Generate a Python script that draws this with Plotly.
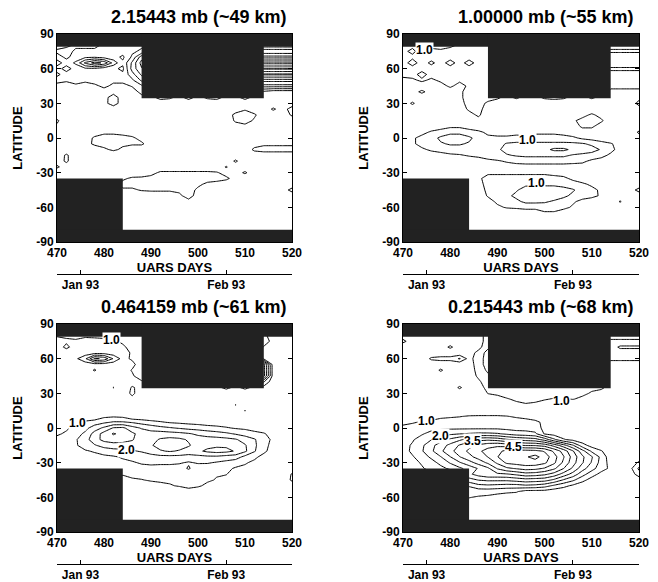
import plotly.graph_objects as go

# ---------------- data ----------------
DAYS = [470, 472, 474, 476, 478, 480, 482, 484, 486, 488, 490, 492, 494,
        496, 498, 500, 502, 504, 506, 508, 510, 512, 514, 516, 518, 520]
LATS = [80, 75, 70, 65, 60, 55, 50, 45, 40, 35, 30, 25, 20, 15, 10, 5, 0,
        -5, -10, -15, -20, -25, -30, -35, -40, -45, -50, -55, -60, -65, -70, -75, -80]

# field values in tenths, rows from 80N down to 80S, columns = DAYS
Z_2MB = [
    [12, 11, 9, 8, 9, 11, 12, 11, 12, 14, 14, 14, 14, 14, 14, 14, 14, 14, 14, 14, 14, 14, 12, 12, 12, 12],
    [9, 8, 11, 12, 11, 12, 13, 12, 14, 16, 16, 16, 16, 16, 16, 16, 16, 16, 16, 16, 16, 16, 24, 24, 24, 24],
    [12, 9, 12, 14, 14.5, 13, 12, 9, 16, 28, 19, 19, 19, 19, 19, 19, 19, 19, 19, 19, 19, 19, 13, 13, 13, 13],
    [8, 12, 16, 26, 32, 29, 18, 11, 21, 32, 19, 19, 19, 19, 19, 19, 19, 19, 19, 19, 19, 19, 27, 27, 27, 27],
    [12, 8, 12, 14, 14, 12, 11, 9, 22, 29.5, 19, 19, 19, 19, 19, 19, 19, 19, 19, 19, 19, 19, 14, 14, 14, 14],
    [9, 12, 11, 12, 11, 13, 12, 11, 18, 26, 19, 19, 19, 19, 19, 19, 19, 19, 19, 19, 19, 19, 26, 26, 26, 26],
    [12, 11, 12, 11, 12, 12, 11, 12, 14, 21, 18, 18, 18, 18, 18, 18, 18, 18, 18, 18, 18, 18, 13, 13, 13, 13],
    [8, 7, 9, 8, 9, 11, 9, 8, 10.5, 14, 14, 14, 14, 14, 14, 14, 14, 14, 14, 14, 14, 14, 22, 22, 22, 22],
    [5, 5, 5, 6, 7, 8, 7, 6, 7, 12, 12, 12, 12, 12, 12, 12, 12, 12, 12, 12, 12, 12, 9, 7, 7, 7],
    [4, 4, 5, 5, 6, 7, 14, 6, 5, 8, 8, 12, 11, 8, 12, 8, 11, 12, 8, 8, 12, 8, 8, 6, 6, 6],
    [5, 5, 5, 6, 6, 8, 13, 7, 6, 6, 6, 6, 6, 6, 6, 6, 6, 6, 6, 6, 6, 6, 6, 6, 6, 6],
    [6, 6, 6, 6, 6, 6, 6, 6, 6, 6, 6, 6, 6, 6, 6, 6, 6, 6, 6, 6, 9, 6, 6, 11, 7, 13],
    [6, 6, 6, 6, 6, 6, 6, 6, 6, 6, 6, 6, 6, 6, 6, 6, 6, 6, 6, 12, 14.5, 11, 6, 6, 6, 11],
    [11, 6, 6, 6, 6, 6, 6, 6, 6, 6, 6, 6, 6, 6, 6, 6, 6, 6, 6, 11, 13, 9, 6, 6, 6, 6],
    [9, 6, 6, 6, 6, 6, 6, 6, 6, 6, 6, 6, 6, 6, 6, 6, 6, 6, 6, 7, 8, 7, 6, 6, 6, 6],
    [6, 6, 6, 6, 7, 9, 9, 8, 7, 6, 6, 6, 6, 6, 6, 6, 6, 6, 6, 6, 6, 6, 6, 6, 6, 6],
    [6, 6, 6, 7, 11, 12, 12, 12, 11, 8, 6, 6, 6, 6, 6, 6, 6, 6, 6, 6, 6, 6, 6, 6, 6, 6],
    [6, 6, 6, 8, 11, 12, 13, 11, 11, 11, 7, 6, 6, 6, 6, 6, 6, 6, 6, 6, 6, 8, 9, 9, 9, 9],
    [6, 6, 6, 6, 7, 9, 11, 9, 6, 6, 6, 6, 6, 6, 6, 6, 6, 6, 6, 6, 7, 11, 12, 12, 12, 12],
    [6, 11, 6, 6, 6, 6, 6, 6, 6, 6, 6, 6, 6, 6, 6, 6, 6, 6, 6, 6, 6, 7, 7, 7, 7, 7],
    [7, 11, 6, 6, 6, 6, 6, 6, 6, 6, 6, 6, 6, 6, 6, 6, 6, 6, 6, 11, 6, 6, 6, 6, 6, 6],
    [11, 7, 6, 6, 6, 6, 6, 6, 6, 6, 6, 6, 6, 6, 6, 6, 6, 6, 10.5, 6, 6, 6, 6, 6, 6, 6],
    [6, 6, 6, 6, 6, 6, 6, 6, 6, 7, 8, 11, 11, 11, 11, 11, 11, 10.5, 8, 7, 11, 6, 6, 6, 6, 6],
    [6, 6, 6, 6, 6, 6, 6, 9, 11, 11, 12, 12, 13, 13, 13, 13, 12, 12, 11, 8, 6, 6, 6, 6, 6, 6],
    [6, 6, 6, 6, 6, 6, 6, 12, 12, 12, 12, 12, 12, 12, 11, 11, 9, 8, 7, 6, 6, 6, 6, 6, 6, 6],
    [6, 6, 6, 6, 6, 6, 6, 9, 9, 10.5, 11, 11, 11, 11, 12, 9, 7, 6, 6, 6, 6, 6, 6, 6, 7, 12],
    [6, 6, 6, 6, 6, 6, 6, 6, 6, 6, 6, 6, 6, 9, 12, 8, 6, 6, 6, 6, 6, 6, 6, 6, 6, 6],
    [6, 6, 6, 6, 6, 6, 6, 6, 6, 6, 6, 6, 6, 6, 8.5, 6, 6, 6, 6, 6, 6, 6, 6, 6, 6, 6],
    [5, 5, 5, 5, 5, 5, 5, 5, 5, 5, 5, 5, 5, 5, 5, 5, 5, 5, 5, 5, 5, 5, 5, 5, 5, 5],
    [5, 5, 5, 5, 5, 5, 5, 5, 5, 5, 5, 5, 5, 5, 5, 5, 5, 5, 5, 5, 5, 5, 5, 5, 5, 5],
    [5, 5, 5, 5, 5, 5, 5, 5, 5, 5, 5, 5, 5, 5, 5, 5, 5, 5, 5, 5, 5, 5, 5, 5, 5, 5],
    [5, 5, 5, 5, 5, 5, 5, 5, 5, 5, 5, 5, 5, 5, 5, 5, 5, 5, 5, 5, 5, 5, 5, 5, 5, 5],
    [5, 5, 5, 5, 5, 5, 5, 5, 5, 5, 5, 5, 5, 5, 5, 5, 5, 5, 5, 5, 5, 5, 5, 5, 5, 5],
]

Z_1MB = [
    [12, 11, 11, 8, 8, 9, 11, 12, 12, 14, 14, 14, 14, 14, 14, 14, 14, 14, 14, 14, 14, 14, 13, 13, 13, 13],
    [11, 9, 12, 12, 11, 12, 11, 12, 13, 14, 14, 14, 14, 14, 14, 14, 14, 14, 14, 14, 14, 14, 16, 16, 16, 16],
    [12, 11, 12, 12, 12, 12, 12, 12, 13, 14, 14, 14, 14, 14, 14, 14, 14, 14, 14, 14, 14, 14, 11, 11, 11, 11],
    [12, 8, 12, 9, 12, 8, 12, 8, 12, 14, 14, 14, 14, 14, 14, 14, 14, 14, 14, 14, 14, 14, 14, 14, 14, 14],
    [12, 12, 12, 12, 12, 12, 12, 12, 13, 14, 14, 14, 14, 14, 14, 14, 14, 14, 14, 14, 14, 14, 9, 9, 9, 9],
    [12, 12, 8, 12, 12, 12, 12, 12, 13, 14, 14, 14, 14, 14, 14, 14, 14, 14, 14, 14, 14, 14, 12, 12, 12, 12],
    [8, 9, 11, 9, 11, 12, 11, 12, 13, 14, 14, 14, 14, 14, 14, 14, 14, 14, 14, 14, 14, 14, 14, 14, 14, 14],
    [6, 6, 7, 7, 8, 11, 8, 11, 13, 14, 14, 14, 14, 14, 14, 14, 14, 14, 14, 14, 14, 14, 11, 11, 11, 11],
    [6, 8, 11, 8, 6, 7, 9, 12, 13, 13, 13, 13, 13, 13, 13, 13, 13, 13, 13, 13, 13, 13, 9, 9, 9, 9],
    [6, 6, 7, 6, 6, 7, 9, 12, 13, 12, 11, 8, 11, 8, 8, 11, 12, 11, 8, 8, 11, 8, 8, 6, 6, 8],
    [6, 11, 6, 6, 6, 6, 8, 12, 12, 9, 7, 6, 6, 6, 6, 6, 6, 6, 6, 6, 6, 6, 6, 6, 6, 12],
    [6, 6, 6, 6, 6, 6, 7, 11, 12, 7, 6, 6, 6, 6, 6, 6, 6, 6, 6, 6, 6, 6, 6, 6, 6, 7],
    [6, 6, 6, 6, 6, 6, 6, 8, 11, 6, 6, 6, 6, 6, 6, 6, 6, 6, 6, 8, 11, 8, 6, 6, 6, 6],
    [6, 6, 6, 6, 6, 6, 6, 6, 8, 6, 6, 6, 6, 6, 6, 6, 6, 6, 9, 12, 13, 11, 6, 6, 6, 6],
    [6, 6, 6, 6, 8, 9, 9, 8, 7, 6, 6, 6, 6, 6, 6, 6, 6, 6, 7, 11, 11, 7, 6, 6, 6, 6],
    [6, 7, 8, 11, 12, 14, 14, 12, 11, 9, 8, 8, 8, 8, 9, 9, 9, 8, 7, 7, 7, 6, 6, 6, 6, 11],
    [6, 9, 12, 13, 16, 17, 17, 16, 13, 11, 11, 11, 12, 12, 12, 12, 12, 12, 11, 9, 8, 7, 6, 6, 6, 7],
    [6, 9, 12, 13, 14.5, 15.5, 15.5, 14.5, 13, 12, 13, 15.5, 16, 16, 16, 16, 16, 16, 16, 15.5, 14, 12, 10.5, 8, 6, 6],
    [6, 8, 9, 11, 12, 13, 13, 12.5, 12, 12.5, 14, 17, 17, 17.5, 18, 18.5, 21, 21, 19, 17.5, 17, 14.5, 11.5, 8, 6, 6],
    [6, 6, 6, 7, 8, 9, 9.5, 10.5, 11, 12, 13, 14.5, 15.5, 16, 16, 16, 16, 16, 14.5, 14, 13, 11.5, 9, 6, 6, 6],
    [6, 6, 6, 6, 6, 6, 6, 7, 8, 9, 9.5, 10.5, 11.5, 12, 12, 12, 12, 12, 11.5, 11, 9, 8, 7, 6, 6, 6],
    [6, 6, 6, 6, 6, 6, 6, 6, 6, 6, 8, 8, 8, 8, 8, 8, 8, 8, 8, 8, 6, 6, 6, 6, 6, 6],
    [6, 6, 6, 6, 6, 6, 6, 6, 6, 9, 9, 9, 9, 9, 9, 9, 8, 8, 7, 6, 6, 6, 6, 6, 6, 6],
    [6, 6, 6, 6, 6, 6, 6, 6, 9, 12, 12, 12, 12, 12, 12, 12, 12, 11, 9, 7, 6, 6, 6, 6, 6, 6],
    [6, 6, 6, 6, 6, 6, 6, 6, 8, 12, 13, 13, 14, 14, 14, 14, 14, 13, 12, 11, 9, 7, 6, 6, 6, 6],
    [6, 6, 6, 6, 6, 6, 6, 6, 8, 11, 12, 13, 14.5, 17, 17.5, 17.5, 17.5, 17, 15.5, 13, 11.5, 9, 8, 6, 7, 12],
    [6, 6, 6, 6, 6, 6, 6, 6, 7, 10.5, 12, 14, 16, 18, 18, 17.5, 17, 16, 14, 13, 12, 9, 6, 6, 6, 6],
    [6, 6, 6, 6, 6, 6, 6, 6, 6, 8, 11, 12, 14, 16, 16, 15.5, 14.5, 13, 11, 8, 6, 6, 6, 10.5, 6, 6],
    [6, 6, 6, 6, 6, 6, 6, 6, 6, 6, 9, 10.5, 11, 12, 12, 13, 13, 12, 9, 6, 6, 6, 6, 6, 6, 6],
    [6, 6, 6, 6, 6, 6, 6, 6, 6, 6, 6, 6, 6, 6, 6, 9, 9, 6, 6, 6, 6, 6, 6, 6, 6, 6],
    [6, 6, 6, 6, 6, 6, 6, 6, 6, 6, 6, 6, 6, 6, 6, 6, 6, 6, 6, 6, 6, 6, 6, 6, 6, 6],
    [6, 6, 6, 6, 6, 6, 6, 6, 6, 6, 6, 6, 6, 6, 6, 6, 6, 6, 6, 6, 6, 6, 6, 6, 6, 6],
    [6, 6, 6, 6, 6, 6, 6, 6, 6, 6, 6, 6, 6, 6, 6, 6, 6, 6, 6, 6, 6, 6, 6, 6, 6, 6],
]

Z_046MB = [
    [10.5, 11, 11, 11, 11, 11, 11, 11, 12, 12, 12, 12, 12, 12, 12, 12, 12, 12, 12, 12, 12, 12, 11, 8, 8, 8],
    [8, 9, 9.5, 8, 8.5, 9, 9, 11, 13, 14, 14, 14, 14, 14, 14, 14, 14, 14, 14, 14, 14, 14, 13, 8, 7, 7],
    [7, 11.5, 7, 7, 7, 7, 8, 9, 12, 14, 14, 14, 14, 14, 14, 14, 14, 14, 14, 14, 14, 14, 9.5, 7, 7, 7],
    [6, 6, 6, 7, 8, 8, 7, 7, 11, 14, 14, 14, 14, 14, 14, 14, 14, 14, 14, 14, 14, 14, 9, 7, 6, 6],
    [6, 6, 9, 14, 26, 24, 14.5, 8, 11, 14, 14, 14, 14, 14, 14, 14, 14, 14, 14, 14, 14, 14, 9, 7, 6, 6],
    [6, 6, 6, 7, 7.5, 7.5, 7, 7, 8, 14, 14, 14, 14, 14, 14, 14, 14, 14, 14, 14, 14, 14, 32, 7, 6, 6],
    [6, 6, 6, 7, 10.5, 7, 6, 7, 10.5, 14, 14, 14, 14, 14, 14, 14, 14, 14, 14, 14, 14, 14, 32, 7, 6, 6],
    [6, 6, 6, 6, 6, 6, 6, 6, 9, 14, 14, 14, 14, 14, 14, 14, 14, 14, 14, 14, 14, 14, 32, 7, 6, 6],
    [6, 6, 6, 6, 6, 6, 6, 6, 8, 9, 12, 12, 12, 12, 12, 12, 12, 12, 12, 12, 12, 12, 15.5, 6, 6, 6],
    [6, 6, 6, 6, 6, 6, 10.2, 7, 10.5, 8.5, 8.5, 8.5, 8.5, 8.5, 8.5, 8.5, 8.5, 8.5, 11.5, 8.5, 11.5, 8.5, 8, 6, 6, 6],
    [6, 6, 6, 6, 6, 6, 6, 6, 11.5, 6, 6, 6, 6, 6, 6, 6, 6, 6, 6, 6, 6, 6, 6, 6, 6, 6],
    [6, 6, 6, 6, 6, 6, 6, 6, 8, 6, 6, 6, 6, 6, 6, 6, 6, 6, 6, 6, 6, 6, 6, 6, 6, 6],
    [6, 6, 6, 6, 6, 6, 6, 6, 6, 6, 6, 6, 6, 6, 6, 6, 6, 6, 6, 10.2, 6, 6, 6, 6, 6, 6],
    [6, 6, 6, 6, 6, 6, 6, 6, 6, 6, 6, 6, 6, 6, 6, 6, 6, 6, 6, 6, 10.2, 6, 6, 6, 6, 6],
    [6, 6, 6, 6, 6, 9, 9.5, 9, 6, 6, 6, 6, 6, 6, 6, 6, 6, 6, 6, 6, 6, 6, 6, 6, 6, 6],
    [7, 8, 9.5, 11, 12.5, 14, 15.5, 15.5, 14.5, 13, 11.5, 10.5, 9.5, 9, 8.5, 8, 7.5, 7, 7, 6, 6, 6, 6, 6, 6, 6],
    [8.5, 9.5, 11, 13.5, 17.5, 21, 25.5, 26, 22, 19.5, 18, 16.5, 15.5, 14.5, 13.5, 13, 12, 11.5, 10.5, 9.5, 9, 8, 7, 6, 6, 6],
    [9.5, 10.5, 13, 16, 22, 27, 30.5, 28.5, 26, 23, 22, 22.5, 22, 21.5, 20.5, 19, 18, 17, 16, 14.5, 13, 11.5, 10.5, 8, 7, 6],
    [11, 12, 14.5, 18, 23, 26.5, 27.5, 27, 25.5, 22, 23.5, 25.5, 26.5, 26, 24.5, 22.5, 22, 22, 21.5, 20.5, 18, 15.5, 12, 9, 7, 6],
    [11.5, 12.5, 14.5, 17, 19.5, 22, 23, 23, 22.5, 23, 24.5, 27, 28, 27.5, 25.5, 23, 23.5, 24, 24, 23, 20.5, 16, 11.5, 8.5, 7, 6],
    [11.5, 12, 13.5, 14.5, 15.5, 17, 18, 18.5, 19.5, 20.5, 23, 24.5, 25.5, 24.5, 23, 24, 26, 27, 26.5, 24.5, 21, 15.5, 11, 8, 7, 6],
    [11.5, 11.5, 12.5, 13.5, 13.5, 14, 14.5, 15.5, 16.5, 17, 17.5, 18.5, 18.5, 18.5, 18, 18.5, 19, 19, 18, 17.5, 13.5, 11, 8.5, 7.5, 7, 6],
    [11, 11, 11.5, 12, 12.5, 13, 13.5, 14, 14.5, 15.5, 16, 16, 16, 15.5, 14.5, 15.5, 15.5, 14.5, 13.5, 12, 10.5, 9, 7.5, 6, 6, 6],
    [11, 11, 11, 11, 11, 11, 11, 11, 13, 13.5, 13.5, 13, 13, 13, 15.5, 12.5, 12, 11.5, 11, 9.5, 9, 7.5, 6, 6, 6, 6],
    [11, 11, 11, 11, 11, 11, 11, 10.2, 11, 11.5, 12, 12, 12, 12, 12, 12, 11.5, 10.5, 10.2, 8, 7, 6, 6, 6, 6, 10.5],
    [11, 11, 11, 11, 11, 11, 11, 9, 9.5, 9.8, 10.5, 11, 11, 11, 11.5, 11.5, 11, 9.5, 8.5, 7, 6, 6, 6, 6, 6, 11],
    [6, 6, 6, 6, 6, 6, 6, 6, 6, 6, 8, 8.5, 9.5, 10.5, 11.5, 11, 8.5, 6, 6, 6, 6, 6, 6, 6, 6, 6],
    [6, 6, 6, 6, 6, 6, 6, 6, 6, 6, 6, 6, 6, 6, 8, 6, 6, 6, 6, 6, 6, 6, 6, 6, 6, 6],
    [6, 6, 6, 6, 6, 6, 6, 6, 6, 6, 6, 6, 6, 6, 6, 6, 6, 6, 6, 6, 6, 6, 6, 6, 6, 6],
    [6, 6, 6, 6, 6, 6, 6, 6, 6, 6, 6, 6, 6, 6, 6, 6, 6, 6, 6, 6, 6, 6, 6, 6, 6, 6],
    [6, 6, 6, 6, 6, 6, 6, 6, 6, 6, 6, 6, 6, 6, 6, 6, 6, 6, 6, 6, 6, 6, 6, 6, 6, 6],
    [6, 6, 6, 6, 6, 6, 6, 6, 6, 6, 6, 6, 6, 6, 6, 6, 6, 6, 6, 6, 6, 6, 6, 6, 6, 6],
    [6, 6, 6, 6, 6, 6, 6, 6, 6, 6, 6, 6, 6, 6, 6, 6, 6, 6, 6, 6, 6, 6, 6, 6, 6, 6],
]

Z_021MB = [
    [8, 8, 8, 8, 8, 8, 8, 8, 8, 12, 12, 12, 12, 12, 12, 12, 12, 12, 12, 12, 12, 12, 8, 8, 8, 8],
    [11, 8, 7, 7, 7, 7, 7, 7, 8, 12, 12, 12, 12, 12, 12, 12, 12, 12, 12, 12, 12, 12, 11, 11, 11, 11],
    [7, 7, 7, 7, 7, 11, 7, 7, 8, 14, 12, 12, 12, 12, 12, 12, 12, 12, 12, 12, 12, 12, 12, 16, 16, 16],
    [6, 6, 6, 6, 6, 6, 6, 7, 12, 17, 12, 12, 12, 12, 12, 12, 12, 12, 12, 12, 12, 12, 12, 12, 12, 12],
    [6, 6, 6, 11, 12, 12, 15.5, 8, 13, 17, 12, 12, 12, 12, 12, 12, 12, 12, 12, 12, 12, 12, 11, 11, 11, 11],
    [6, 6, 6, 6, 6, 6, 6, 7, 13, 17, 12, 12, 12, 12, 12, 12, 12, 12, 12, 12, 12, 12, 8, 8, 8, 8],
    [6, 6, 6, 6, 11, 6, 6, 7, 12, 16, 12, 12, 12, 12, 12, 12, 12, 12, 12, 12, 12, 12, 7, 7, 7, 7],
    [6, 6, 6, 6, 6, 6, 6, 7, 11, 14, 12, 12, 12, 12, 12, 12, 12, 12, 12, 12, 12, 12, 7, 7, 7, 7],
    [6, 6, 6, 6, 6, 6, 6, 6, 9, 13, 13, 13, 13, 13, 13, 13, 13, 13, 13, 13, 13, 13, 7, 7, 7, 7],
    [6, 6, 6, 6, 6, 6, 11, 6, 6, 13, 13, 13, 13, 13, 13, 13, 13, 13, 13, 12, 11, 10.5, 9, 6, 6, 6],
    [6, 6, 6, 6, 6, 6, 6, 6, 6, 10.2, 11, 12.5, 13, 13, 13, 13, 12.5, 12, 11.5, 11, 9.5, 9, 8.5, 6, 6, 6],
    [6, 6, 6, 6, 6, 6, 6, 6, 6, 7, 8, 9.5, 11, 11.5, 11, 10.5, 9.5, 9.5, 10.2, 9, 7, 6, 6, 6, 6, 6],
    [6, 6, 6, 6, 6, 6, 6, 6, 6, 6, 6, 6, 8.5, 9.5, 9.2, 7, 6, 6, 6, 6, 6, 6, 6, 6, 6, 6],
    [6, 6, 6, 6, 6, 6, 6, 6, 7, 7, 7, 7, 7, 7, 7, 6, 6, 6, 6, 6, 6, 6, 6, 6, 6, 6],
    [6, 6, 7, 8, 9, 9.5, 9.8, 10.5, 10.5, 10.5, 10.5, 10.2, 9.5, 9, 8, 7, 6, 6, 6, 6, 6, 6, 6, 6, 6, 6],
    [9, 9.5, 10.5, 11, 12, 12, 12.5, 13, 13, 13, 13, 12.5, 12, 11.5, 11, 9, 8, 7, 6, 6, 6, 6, 6, 6, 6, 6],
    [11, 12, 13, 13.5, 14, 14, 14, 14, 14, 14, 14, 13.5, 13, 13, 12.5, 8.5, 7.5, 7, 7, 6, 6, 6, 6, 6, 6, 6],
    [12, 13, 14.5, 16.5, 18, 19, 19.8, 20.5, 21, 21, 20.5, 19, 17.5, 17, 16, 9.5, 8, 7, 6, 6, 6, 6, 6, 6, 6, 6],
    [13, 14.5, 17, 19.8, 23, 26, 29, 32, 33.5, 34, 33, 30.5, 29, 28, 27, 23, 16, 10.5, 8.5, 7, 6, 6, 6, 6, 6, 6],
    [13.5, 15.5, 19, 23.5, 27.5, 31.5, 35.5, 38.5, 41, 43, 44, 43, 41, 39.5, 39.5, 38, 33, 27, 20.5, 12, 8, 6, 6, 6, 6, 6],
    [13, 16, 19.5, 24, 29, 33.5, 37.5, 41, 44, 47, 48.5, 51.5, 52, 52, 51.5, 49.5, 44, 38, 30.5, 22, 14, 10.5, 6, 6, 6, 6],
    [12.5, 14.5, 17.5, 21, 24.8, 29.8, 34.8, 38.5, 42, 45.2, 49.8, 53.5, 54.5, 54.5, 56.5, 53, 47, 40.5, 33, 26, 20.5, 13.5, 7, 6, 6, 6],
    [12, 13.5, 15.5, 18, 21.5, 25.5, 29.5, 33, 37, 41, 46, 51, 52, 53, 53, 51, 46, 39, 32, 25.5, 19.5, 13, 8, 6, 6, 11],
    [11.5, 13, 14.5, 16.5, 18.5, 21, 24, 27, 30.5, 34, 40.5, 44, 45.5, 47, 46.5, 44.5, 41, 35.2, 29, 22, 17, 12, 9, 6, 8, 16],
    [11, 12, 13, 14, 15.2, 16, 17, 29, 32, 34, 34, 34.5, 36, 38, 37.5, 36, 33, 28, 23, 17, 12, 8.5, 6, 6, 6, 13],
    [10.5, 11, 11.5, 12, 12.5, 13, 13.5, 23, 25.2, 26, 26, 26, 27, 28, 27.5, 27, 24, 19.5, 16, 11.5, 8, 6, 6, 6, 6, 6],
    [10.2, 10.2, 10.2, 10.2, 10.2, 10.2, 10.2, 15.5, 18.5, 19, 18.5, 18, 18, 19, 18.5, 17, 14, 11.5, 9, 7, 6, 6, 6, 6, 6, 6],
    [9, 9, 9, 9, 9, 9, 9, 12, 12, 12, 11.5, 11, 10.5, 8, 8, 8, 7, 6.5, 6, 6, 6, 6, 6, 6, 6, 6],
    [8, 8, 8, 8, 8, 8, 8, 10.2, 9.5, 9, 8, 7, 7, 6, 6, 6, 6, 6, 6, 6, 6, 6, 6, 6, 6, 6],
    [7, 7, 7, 7, 7, 7, 7, 8, 7, 7, 6, 6, 6, 6, 6, 6, 6, 6, 6, 6, 6, 6, 6, 6, 6, 6],
    [6, 6, 6, 6, 6, 6, 6, 6, 6, 6, 6, 6, 6, 6, 6, 6, 6, 6, 6, 6, 6, 6, 6, 6, 6, 6],
    [6, 6, 6, 6, 6, 6, 6, 6, 6, 6, 6, 6, 6, 6, 6, 6, 6, 6, 6, 6, 6, 6, 6, 6, 6, 6],
    [6, 6, 6, 6, 6, 6, 6, 6, 6, 6, 6, 6, 6, 6, 6, 6, 6, 6, 6, 6, 6, 6, 6, 6, 6, 6],
]

PANEL_TITLES = ["2.15443 mb (~49 km)", "1.00000 mb (~55 km)",
                "0.464159 mb (~61 km)", "0.215443 mb (~68 km)"]
PANEL_FIELDS = [Z_2MB, Z_1MB, Z_046MB, Z_021MB]
CONTOUR_START, CONTOUR_END, CONTOUR_STEP = 1.0, 6.0, 0.5

# contour labels (text, day, latitude) per panel
LABELS_2MB = []
LABELS_1MB = [("1.0", 474.5, 76), ("1.0", 496.3, -1.7), ("1.0", 498.2, -38.7)]
LABELS_046MB = [("1.0", 481.5, 76), ("1.0", 474.3, 4.3), ("2.0", 484.8, -18.7)]
LABELS_021MB = [("1.0", 475, 5.7), ("2.0", 478, -7), ("3.5", 484.7, -11.5),
                ("4.5", 493.5, -16.6), ("1.0", 503.5, 23.5)]
PANEL_LABELS = [LABELS_2MB, LABELS_1MB, LABELS_046MB, LABELS_021MB]

# regions without data (day0, day1, lat0, lat1)
NO_DATA = [(470, 520, 79, 90), (488, 514, 34.5, 90), (470, 484, -90, -35), (470, 520, -90, -79.5)]

DAY_TICKS = [470, 480, 490, 500, 510, 520]
LAT_TICKS = [-90, -60, -30, 0, 30, 60, 90]
MONTH_DAYS = [475, 506]
MONTH_NAMES = ["Jan 93", "Feb 93"]

# ---------------- figure ----------------
# the page body has an 8 px margin, so the figure is 8 px smaller and all
# window-pixel positions are shifted by 8 px into figure pixels
OFF = 8
W, H = 658 - OFF, 582 - OFF
BOXES = [(57, 34, 292, 242), (403, 34, 639, 242), (57, 324, 292, 532), (403, 324, 639, 532)]
DATE_AXIS_Y = [274, 274, 564, 564]
FONT = "Liberation Sans, Arial, Helvetica, sans-serif"
MASK_COLOR = "#222222"


def fx(px):
    return (px - OFF) / W


def fy(py):
    return 1 - (py - OFF) / H


fig = go.Figure()
layout = dict(template="none", width=W, height=H, margin=dict(l=0, r=0, t=0, b=0, pad=0),
              paper_bgcolor="white", plot_bgcolor="white", showlegend=False,
              font=dict(family=FONT, color="black"))
shapes, annotations = [], []

for k in range(4):
    field = PANEL_FIELDS[k]
    if len(field) != len(LATS):
        raise ValueError("panel %d has %d rows" % (k, len(field)))
    for r, row in enumerate(field):
        if len(row) != len(DAYS):
            raise ValueError("panel %d row %d has %d values" % (k, r, len(row)))
    z = [[v / 10.0 for v in row] for row in field[::-1]]
    lat = LATS[::-1]
    sfx = "" if k == 0 else str(k + 1)
    fig.add_trace(go.Contour(
        x=DAYS, y=lat, z=z, xaxis="x" + sfx, yaxis="y" + sfx,
        contours=dict(start=CONTOUR_START, end=CONTOUR_END, size=CONTOUR_STEP,
                      coloring="lines", showlabels=False),
        line=dict(width=1, smoothing=0),
        colorscale=[[0, "black"], [1, "black"]], showscale=False, hoverinfo="skip"))

    l, t, r_, b = BOXES[k]
    xd = [fx(l), fx(r_)]
    yd = [fy(b), fy(t)]
    layout["xaxis" + sfx] = dict(
        domain=xd, range=[470, 520], anchor="y" + sfx, automargin=False,
        tickvals=DAY_TICKS, ticktext=[str(d) for d in DAY_TICKS],
        ticks="inside", ticklen=4, tickcolor="black", mirror="ticks",
        showline=True, linecolor="black", linewidth=1,
        showgrid=False, zeroline=False,
        tickfont=dict(size=12, family=FONT, weight=700),
        title=dict(text="UARS DAYS", standoff=0, font=dict(size=13, family=FONT, weight=700)))
    layout["yaxis" + sfx] = dict(
        domain=yd, range=[-90, 90], anchor="x" + sfx, automargin=False,
        tickvals=LAT_TICKS, ticktext=[str(v) for v in LAT_TICKS],
        ticks="inside", ticklen=4, tickcolor="black", mirror="ticks",
        showline=True, linecolor="black", linewidth=1,
        showgrid=False, zeroline=False,
        tickfont=dict(size=12, family=FONT, weight=700),
        title=dict(text="LATITUDE", standoff=10, font=dict(size=13, family=FONT, weight=700)))

    # calendar axis below
    dsfx = str(k + 5)
    layout["xaxis" + dsfx] = dict(
        overlaying="x" + sfx, anchor="free", position=fy(DATE_AXIS_Y[k]), side="bottom",
        range=[470, 520], tickvals=MONTH_DAYS, ticktext=MONTH_NAMES, automargin=False,
        ticks="inside", ticklen=4, tickcolor="black",
        showline=True, linecolor="black", linewidth=1,
        showgrid=False, zeroline=False,
        tickfont=dict(size=12, family=FONT, weight=700))
    fig.add_trace(go.Scatter(x=[470, 520], y=[0, 0], xaxis="x" + dsfx, yaxis="y" + sfx,
                             mode="markers", marker=dict(opacity=0), hoverinfo="skip"))

    for (x0, x1, y0, y1) in NO_DATA:
        shapes.append(dict(type="rect", xref="x" + sfx, yref="y" + sfx,
                           x0=x0, x1=x1, y0=y0, y1=y1, fillcolor=MASK_COLOR,
                           line=dict(width=0), layer="above"))

    for (txt, d, la) in PANEL_LABELS[k]:
        annotations.append(dict(text=txt, x=d, y=la, xref="x" + sfx, yref="y" + sfx,
                                showarrow=False, bgcolor="white", borderpad=0,
                                font=dict(size=12, family=FONT, weight=700)))

    annotations.append(dict(text=PANEL_TITLES[k], x=fx(r_ - 3), y=fy(t - 17),
                            xref="paper", yref="paper", xanchor="right", yanchor="middle",
                            showarrow=False, font=dict(size=18, family=FONT, weight=700)))

layout["shapes"] = shapes
layout["annotations"] = annotations
fig.update_layout(**layout)
fig.write_html("out.html")
